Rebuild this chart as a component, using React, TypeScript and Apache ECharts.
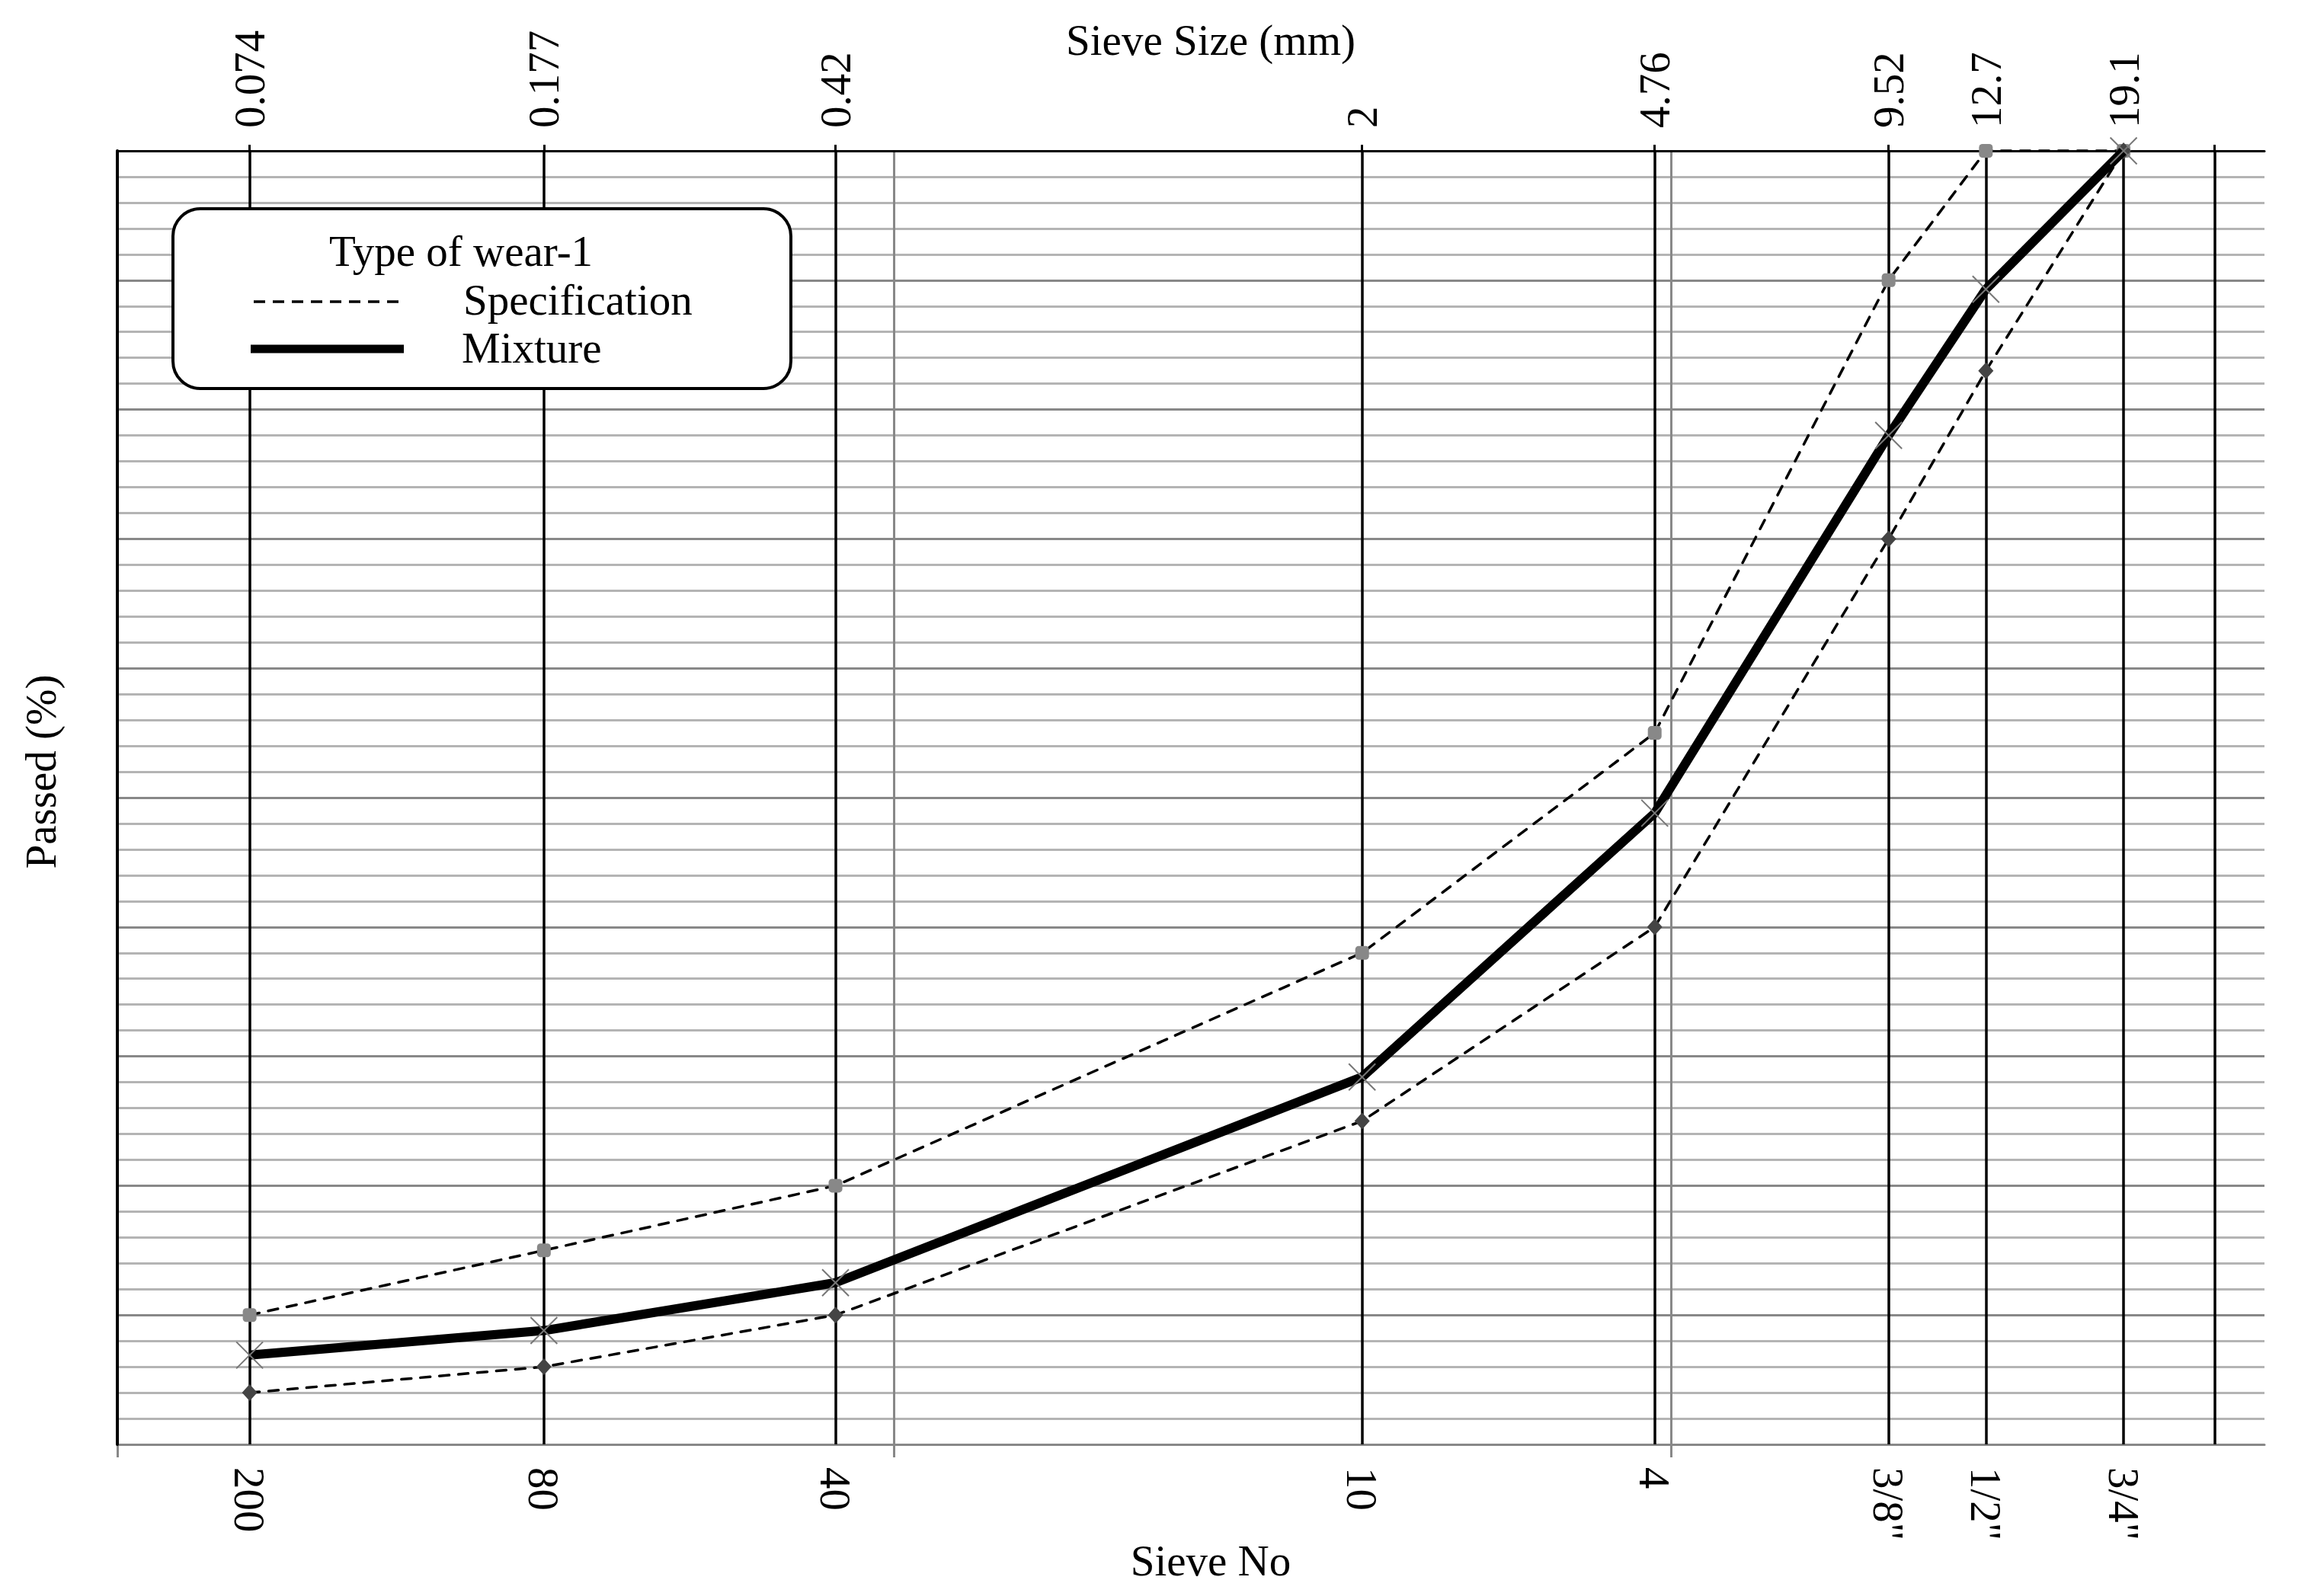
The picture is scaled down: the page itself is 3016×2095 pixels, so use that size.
import React, { useEffect, useRef } from 'react';
import * as echarts from 'echarts';

// ---- data ----
const sieveSizes = [0.074, 0.177, 0.42, 2, 4.76, 9.52, 12.7, 19.1];
const sizeLabels = ['0.074', '0.177', '0.42', '2', '4.76', '9.52', '12.7', '19.1'];
const sieveNos = ['200', '80', '40', '10', '4', '3/8"', '1/2"', '3/4"'];
const mixture = [6.9, 8.8, 12.5, 28.4, 48.8, 78.0, 89.3, 100];
const specUpper = [10, 15, 20, 38, 55, 90, 100, 100];
const specLower = [4, 6, 10, 25, 40, 70, 83, 100];
const extraSieveLines = [25];
const majorLogLines = [0.05, 0.5, 5];
const xMin = 0.05;
const xMax = 29;

const FONT = 'Liberation Serif';
const FS = 57;

const findIdx = (v: number) => sieveSizes.findIndex((s) => Math.abs(s - v) / s < 1e-3);

export default function App() {
  const ref = useRef<HTMLDivElement>(null);

  useEffect(() => {
    if (!ref.current) return;
    const chart = echarts.init(ref.current, null, { renderer: 'svg' });

    const textBase = { fontFamily: FONT, fontSize: FS, color: '#000' };

    const option: any = {
      animation: false,
      backgroundColor: '#ffffff',
      grid: { left: 154, right: 44, top: 198, bottom: 199, outerBoundsMode: 'none' },
      xAxis: [
        {
          type: 'log',
          logBase: 10,
          position: 'bottom',
          min: xMin,
          max: xMax,
          z: 1,
          name: 'Sieve No',
          nameLocation: 'middle',
          nameGap: 124,
          nameMoveOverlap: false,
          nameTextStyle: { ...textBase, padding: [0, 0, 0, 52] },
          axisLine: { show: true, onZero: false, lineStyle: { color: '#888', width: 3 } },
          axisTick: { show: true, customValues: majorLogLines, length: 17, inside: false, lineStyle: { color: '#888', width: 3 } },
          axisLabel: {
            show: true,
            customValues: sieveSizes,
            rotate: -90,
            margin: 30,
            ...textBase,
            formatter: (v: number) => {
              const i = findIdx(v);
              return i >= 0 ? sieveNos[i] : '';
            },
          },
          splitLine: { show: true, lineStyle: { color: '#888', width: 3 } },
          minorTick: { show: false },
          minorSplitLine: { show: false },
        },
        {
          type: 'log',
          logBase: 10,
          position: 'top',
          min: xMin,
          max: xMax,
          z: 2,
          name: 'Sieve Size (mm)',
          nameLocation: 'middle',
          nameGap: 117,
          nameMoveOverlap: false,
          nameTextStyle: { ...textBase, padding: [0, 0, 0, 52] },
          axisLine: { show: true, onZero: false, lineStyle: { color: '#000', width: 3 } },
          axisTick: { show: true, customValues: [...sieveSizes, ...extraSieveLines], length: 8, inside: false, lineStyle: { color: '#000', width: 3 } },
          axisLabel: {
            show: true,
            customValues: sieveSizes,
            rotate: -90,
            margin: 30,
            ...textBase,
            formatter: (v: number) => {
              const i = findIdx(v);
              return i >= 0 ? sizeLabels[i] : '';
            },
          },
          splitLine: { show: true, lineStyle: { color: '#000', width: 3.5 } },
          minorTick: { show: false },
          minorSplitLine: { show: false },
        },
      ],
      yAxis: [
        {
          type: 'value',
          min: 0,
          max: 100,
          interval: 10,
          position: 'left',
          z: 0,
          name: 'Passed (%)',
          nameLocation: 'middle',
          nameGap: 72,
          nameMoveOverlap: false,
          nameTextStyle: { ...textBase, padding: [0, 0, 0, 68] },
          axisLine: { show: false, onZero: false },
          axisTick: { show: false },
          axisLabel: { show: false },
          splitLine: { show: true, lineStyle: { color: '#888', width: 3 } },
          minorTick: { show: false, splitNumber: 5 },
          minorSplitLine: { show: true, lineStyle: { color: '#b4b4b4', width: 3 } },
        },
        {
          type: 'value',
          min: 0,
          max: 100,
          position: 'left',
          z: 5,
          axisLine: { show: true, onZero: false, lineStyle: { color: '#000', width: 4 } },
          axisTick: { show: false },
          axisLabel: { show: false },
          splitLine: { show: false },
        },
      ],
      series: [
        {
          name: 'Specification',
          type: 'line',
          xAxisIndex: 0,
          yAxisIndex: 0,
          data: sieveSizes.map((s, i) => [s, specUpper[i]]),
          symbol: 'roundRect',
          symbolSize: 18,
          showAllSymbol: true,
          itemStyle: { color: '#888' },
          lineStyle: { color: '#000', width: 3.5, type: [13, 12], cap: 'round' },
          z: 10,
          clip: false,
        },
        {
          name: 'Specification',
          type: 'line',
          xAxisIndex: 0,
          yAxisIndex: 0,
          data: sieveSizes.map((s, i) => [s, specLower[i]]),
          symbol: 'diamond',
          symbolSize: [20, 22],
          showAllSymbol: true,
          itemStyle: { color: '#444' },
          lineStyle: { color: '#000', width: 3.5, type: [13, 12], cap: 'round' },
          z: 10,
          clip: false,
        },
        {
          name: 'Mixture',
          type: 'line',
          xAxisIndex: 0,
          yAxisIndex: 0,
          data: sieveSizes.map((s, i) => [s, mixture[i]]),
          symbol: 'path://M0 0L10 10M10 0L0 10',
          symbolSize: 35,
          showAllSymbol: true,
          itemStyle: { color: 'none', borderColor: '#777', borderWidth: 2 },
          lineStyle: { color: '#000', width: 12 },
          z: 11,
          clip: false,
        },
      ],
      graphic: [
        {
          type: 'group',
          z: 100,
          children: [
            {
              type: 'rect',
              z: 100,
              shape: { x: 227, y: 274, width: 811, height: 236, r: 36 },
              style: { fill: '#fff', stroke: '#000', lineWidth: 4 },
            },
            {
              type: 'text',
              z: 101,
              x: 605,
              y: 329,
              style: { text: 'Type of wear-1', fontFamily: FONT, fontSize: FS, fill: '#000', align: 'center', verticalAlign: 'middle' },
            },
            {
              type: 'line',
              z: 101,
              shape: { x1: 333, y1: 396, x2: 530, y2: 396 },
              style: { stroke: '#000', lineWidth: 3.5, lineDash: [15, 10] },
            },
            {
              type: 'text',
              z: 101,
              x: 608,
              y: 393,
              style: { text: 'Specification', fontFamily: FONT, fontSize: FS, fill: '#000', align: 'left', verticalAlign: 'middle' },
            },
            {
              type: 'line',
              z: 101,
              shape: { x1: 329, y1: 458, x2: 530, y2: 458 },
              style: { stroke: '#000', lineWidth: 11 },
            },
            {
              type: 'text',
              z: 101,
              x: 606,
              y: 456,
              style: { text: 'Mixture', fontFamily: FONT, fontSize: FS, fill: '#000', align: 'left', verticalAlign: 'middle' },
            },
          ],
        },
      ],
    };

    chart.setOption(option);
    return () => chart.dispose();
  }, []);

  return (
    <div
      ref={ref}
      style={{ position: 'fixed', left: 0, top: 0, width: 3016, height: 2095, background: '#fff' }}
    />
  );
}
